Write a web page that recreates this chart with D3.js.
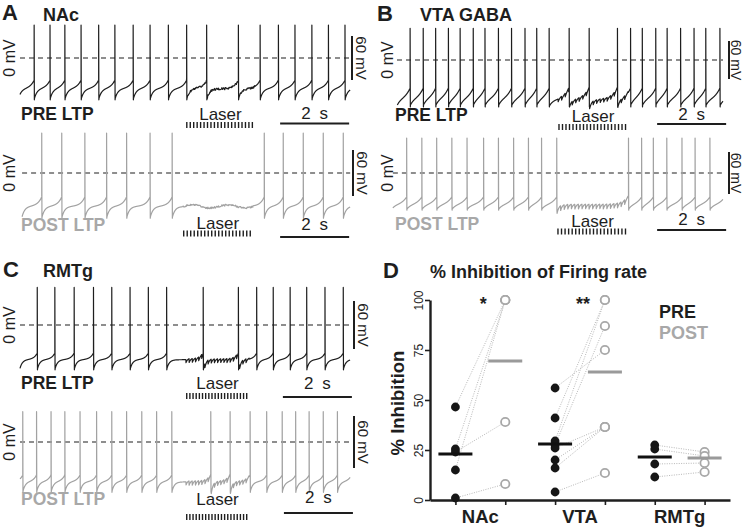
<!DOCTYPE html>
<html><head><meta charset="utf-8">
<script src="https://cdn.jsdelivr.net/npm/d3@7"></script>
<style>
body{margin:0;background:#fff}
svg text{font-family:"Liberation Sans",Arial,Helvetica,sans-serif}
</style></head><body>
<svg id="c" width="744" height="529"></svg>
<script>
// ---------------- DATA ----------------
// spike times (s)
const nacPreSpikes  = [0.41,0.87,1.30,1.77,2.28,2.75,3.28,3.77,4.30,4.83,5.41,6.33,6.96,7.49,7.97,8.46,8.94,9.42];
const nacPostSpikes = [0.63,1.21,1.88,2.51,3.09,3.77,4.41,7.08,7.63,8.21,8.79,9.37];
const vtaPreSpikes  = [0.38,0.76,1.12,1.49,1.83,2.21,2.55,2.94,3.32,3.71,4.05,4.41,4.99,5.57,6.39,6.77,7.11,7.50,7.83,8.22,8.61,8.95,9.36];
const vtaPostSpikes = [0.28,0.72,1.15,1.59,2.03,2.51,2.94,3.38,3.81,4.19,4.63,6.71,7.09,7.43,7.82,8.26,8.64,9.07];
const rmtgPreSpikes = [0.50,1.01,1.57,2.13,2.66,3.19,3.72,4.25,5.31,6.33,6.86,7.34,7.83,8.31,8.84,9.37];
const rmtgPostSpikes= [0.08,0.48,0.90,1.30,1.74,2.22,2.66,3.09,3.53,3.96,4.40,5.53,6.09,6.67,7.15,7.60,7.99,8.38,8.79,9.20];
// membrane levels (mV): [spike peak, threshold, trough]
const nacPreLevels  = [45,-30,-57];
const nacPostLevels = [52,-31,-59];
const vtaPreLevels  = [50,-44,-74];
const vtaPostLevels = [50,-34,-53];
const rmtgPreLevels = [47,-35,-56];
const rmtgPostLevels= [35,-38,-58];
// laser windows (s)
const nacPreLaser  = [4.81,6.81];
const nacPostLaser = [4.72,6.75];
const vtaPreLaser  = [4.67,6.70];
const vtaPostLaser = [4.64,6.70];
const rmtgPreLaser = [4.81,6.64];
const rmtgPostLaser= [4.81,6.64];
const laserPulses = 20;

// Panel D
const groups = ["NAc","VTA","RMTg"];
const conds = ["PRE","POST"];
const nacPre  = [46.5,25.5,15,24,1];
const nacPost = [100,100,100,39,8];
const vtaPre  = [56,41,29.5,27.5,26,20,16,4];
const vtaPost = [75,100,100,87,36.5,36.5,36.5,13.5];
const rmtgPre = [27.5,25.5,18,11.5];
const rmtgPost= [24,22,18.5,14];
const meanPre  = [23,28,21.5];
const meanPost = [69.5,64,21];
const yTicks = [0,25,50,75,100];

// ---------------- DRAW ----------------
const svg = d3.select("#c");
const BLACK = "#1e1e1e", GREY = "#a2a2a2";
const pxPerSec = 34.5;

function hn(i){ const x=Math.sin(i*127.1+311.7)*43758.5453; return (x-Math.floor(x))*2-1; }
function noiseAt(t, step){ const u=t/step, i=Math.floor(u), f=u-i; return hn(i)*(1-f)+hn(i+1)*f; }

function buildTrace(spikes, levels, span, laser, eff, sh){
  const [peak,thr,trough] = levels;
  const n = spikes.length;
  const bounds = [spikes[0]-(spikes[1]-spikes[0]), ...spikes, spikes[n-1]+(spikes[n-1]-spikes[n-2])];
  const pts = [];
  const dt = 0.004;
  for (let k=0;k<bounds.length-1;k++){
    const a=bounds[k], b=bounds[k+1];
    const lo=Math.max(a,span[0]), hi=Math.min(b,span[1]);
    if (hi<=lo) continue;
    if (k>0 && a>=span[0]) { pts.push([a,thr]); pts.push([a,peak]); pts.push([a+0.006,trough]); }
    for (let t=Math.max(lo,a+0.01); t<hi; t+=dt){
      const t1=t-a, t2=b-t;
      let f = sh.w*(1-Math.exp(-t1/sh.tau1)) + (1-sh.w)*Math.exp(-t2/sh.tau2);
      let v = trough + (thr-trough)*f;
      if (t>=laser[0] && t<=laser[1]) {
        if (eff.type==="noise") v += eff.amp*noiseAt(t,0.014) + (eff.wave||0)*Math.sin((t-laser[0])*6);
        if (eff.type==="ipsp") {
          const per=(laser[1]-laser[0])/laserPulses;
          const ph=(t-laser[0])%per;
          v += -eff.amp*Math.exp(-ph/eff.tau) + eff.amp*0.35;
        }
      }
      pts.push([t,v]);
    }
  }
  return pts;
}

const shNAc = {w:0.55,tau1:0.08,tau2:0.12};
const shVTA = {w:0.35,tau1:0.10,tau2:0.16};
const shRMT = {w:0.6,tau1:0.07,tau2:0.10};

const panels = [
 {spikes:nacPreSpikes, levels:nacPreLevels, laser:nacPreLaser, span:[0,9.57], eff:{type:"noise",amp:1.6}, sh:shNAc, post:false,
  x0:20, y0:58, k:0.733, sbX:352, mv60X:356, mv0X:15, mvFs:15, lab:[21,120], laserTextY:119.5, laserBarY:122, barT:7.54, barY:123.5, barTextY:119},
 {spikes:nacPostSpikes, levels:nacPostLevels, laser:nacPostLaser, span:[0.06,9.57], eff:{type:"noise",amp:1.2,wave:2}, sh:shNAc, post:true,
  x0:20, y0:173, k:0.767, sbX:353, mv60X:357, mv0X:15, mvFs:15, lab:[21,231], laserTextY:229, laserBarY:230.5, barT:7.54, barY:237, barTextY:230},
 {spikes:vtaPreSpikes, levels:vtaPreLevels, laser:vtaPreLaser, span:[0,9.45], eff:{type:"ipsp",amp:7,tau:0.05}, sh:shVTA, post:false,
  x0:397, y0:60, k:0.633, sbX:729, mv60X:731, mv0X:393, mvFs:14, lab:[395,121], laserTextY:122, laserBarY:124, barT:7.54, barY:124, barTextY:120},
 {spikes:vtaPostSpikes, levels:vtaPostLevels, laser:vtaPostLaser, span:[-0.12,9.45], eff:{type:"ipsp",amp:8,tau:0.05}, sh:shVTA, post:true,
  x0:397, y0:173, k:0.7, sbX:729, mv60X:731, mv0X:393, mvFs:14, lab:[395,230], laserTextY:227, laserBarY:228.5, barT:7.54, barY:230, barTextY:225},
 {spikes:rmtgPreSpikes, levels:rmtgPreLevels, laser:rmtgPreLaser, span:[0,9.57], eff:{type:"ipsp",amp:6,tau:0.05}, sh:shRMT, post:false,
  x0:20, y0:325, k:0.8, sbX:354, mv60X:358, mv0X:15, mvFs:15, lab:[21,389], laserTextY:389, laserBarY:393, barT:7.62, barY:397, barTextY:389},
 {spikes:rmtgPostSpikes, levels:rmtgPostLevels, laser:rmtgPostLaser, span:[0,9.57], eff:{type:"ipsp",amp:6,tau:0.05}, sh:shRMT, post:true,
  x0:20, y0:442, k:0.867, sbX:354, mv60X:358, mv0X:15, mvFs:15, lab:[21,505], laserTextY:505, laserBarY:514, barT:7.65, barY:513, barTextY:503}
];

panels.forEach(p=>{
  const x = d3.scaleLinear().domain([0,1]).range([p.x0, p.x0+pxPerSec]);
  const y = d3.scaleLinear().domain([0,1]).range([p.y0, p.y0-p.k]);
  const g = svg.append("g");
  const col = p.post ? GREY : BLACK;
  g.append("line").attr("x1",x(p.span[0])).attr("x2",x(p.span[1])).attr("y1",y(0)).attr("y2",y(0))
    .attr("stroke",BLACK).attr("stroke-width",1.2).attr("stroke-dasharray","5,4");
  const pts = buildTrace(p.spikes,p.levels,p.span,p.laser,p.eff,p.sh);
  g.append("path").attr("d", d3.line().x(d=>x(d[0])).y(d=>y(d[1]))(pts))
    .attr("fill","none").attr("stroke",col).attr("stroke-width",1.2).attr("stroke-linejoin","round");
  g.append("line").attr("x1",p.sbX).attr("x2",p.sbX).attr("y1",y(30)).attr("y2",y(-30)).attr("stroke",BLACK).attr("stroke-width",2);
  g.append("text").attr("transform",`translate(${p.mv60X},${y(0)}) rotate(90)`).attr("text-anchor","middle")
    .attr("font-size",p.mvFs).attr("fill",BLACK).text("60 mV");
  g.append("text").attr("transform",`translate(${p.mv0X},${y(0)}) rotate(-90)`).attr("text-anchor","middle")
    .attr("font-size",16).attr("fill",BLACK).text("0 mV");
  g.append("text").attr("x",p.lab[0]).attr("y",p.lab[1]).attr("font-size",17.5).attr("font-weight","bold")
    .attr("fill", p.post ? "#a8a8a8" : BLACK).text(p.post ? "POST LTP" : "PRE LTP");
  const per=(p.laser[1]-p.laser[0])/laserPulses;
  const pulses=d3.range(laserPulses).map(i=>p.laser[0]+i*per+per*0.25);
  g.selectAll(null).data(pulses).enter().append("line")
    .attr("x1",d=>x(d)).attr("x2",d=>x(d)).attr("y1",p.laserBarY).attr("y2",p.laserBarY+6)
    .attr("stroke",BLACK).attr("stroke-width",1.4);
  g.append("text").attr("x",x((p.laser[0]+p.laser[1])/2)).attr("y",p.laserTextY).attr("text-anchor","middle")
    .attr("font-size",17).attr("fill",BLACK).text("Laser");
  g.append("line").attr("x1",x(p.barT)).attr("x2",x(p.barT+2)).attr("y1",p.barY).attr("y2",p.barY).attr("stroke",BLACK).attr("stroke-width",2);
  g.append("text").attr("x",x(p.barT+1)).attr("y",p.barTextY).attr("text-anchor","middle").attr("font-size",17)
    .attr("word-spacing",4).attr("fill",BLACK).text("2 s");
});

const titles = [
  {t:"A",x:2,y:20,s:22},{t:"NAc",x:43,y:21,s:18},
  {t:"B",x:377,y:21,s:22},{t:"VTA GABA",x:420,y:21,s:18},
  {t:"C",x:3,y:277,s:22},{t:"RMTg",x:43,y:277,s:18},
  {t:"D",x:383,y:278,s:22},{t:"% Inhibition of Firing rate",x:430,y:278,s:18}
];
svg.selectAll(null).data(titles).enter().append("text")
  .attr("x",d=>d.x).attr("y",d=>d.y).attr("font-size",d=>d.s).attr("font-weight","bold").attr("fill",BLACK).text(d=>d.t);

// ---------------- Panel D ----------------
const yD = d3.scaleLinear().domain([0,100]).range([500,300]);
const keys = []; groups.forEach(g=>conds.forEach(c=>keys.push(g+"|"+c)));
const xD = d3.scalePoint().domain(keys).range([430,730]).padding(0.51);
const D = svg.append("g");
const preData = [nacPre,vtaPre,rmtgPre], postData=[nacPost,vtaPost,rmtgPost];

groups.forEach((g,gi)=>{
  const xa=xD(g+"|PRE"), xb=xD(g+"|POST");
  D.selectAll(null).data(d3.range(preData[gi].length)).enter().append("line")
    .attr("x1",xa).attr("y1",i=>yD(preData[gi][i])).attr("x2",xb).attr("y2",i=>yD(postData[gi][i]))
    .attr("stroke","#b8b8b8").attr("stroke-width",1).attr("stroke-dasharray","1,1.4");
});
const ya = D.append("g").attr("transform","translate(430,0)")
  .call(d3.axisLeft(yD).tickValues(yTicks).tickSize(5).tickSizeOuter(0));
ya.select(".domain").attr("stroke",BLACK).attr("stroke-width",2.4);
ya.selectAll(".tick line").attr("stroke",BLACK).attr("stroke-width",1.6);
ya.selectAll(".tick text").attr("x",null).attr("dy",null).attr("text-anchor","middle")
  .attr("transform","translate(-7,0) rotate(-90)").attr("font-size",12).attr("fill",BLACK)
  .style("font-family","Liberation Sans, Arial, sans-serif");
const xa = D.append("g").attr("transform","translate(0,500)")
  .call(d3.axisBottom(xD).tickSize(5).tickSizeOuter(0).tickFormat(""));
xa.select(".domain").attr("stroke",BLACK).attr("stroke-width",2.4);
xa.selectAll(".tick line").attr("stroke",BLACK).attr("stroke-width",1.6);

D.append("text").attr("transform","translate(404,403) rotate(-90)").attr("text-anchor","middle")
  .attr("font-size",18.5).attr("font-weight","bold").attr("fill",BLACK).text("% Inhibition");
D.selectAll(null).data(groups).enter().append("text")
  .attr("x",g=>(xD(g+"|PRE")+xD(g+"|POST"))/2).attr("y",523).attr("text-anchor","middle")
  .attr("font-size",18.5).attr("font-weight","bold").attr("fill",BLACK).text(g=>g);

groups.forEach((g,gi)=>{
  D.selectAll(null).data(preData[gi]).enter().append("circle")
    .attr("cx",xD(g+"|PRE")).attr("cy",d=>yD(d)).attr("r",4.4).attr("fill","#161616");
  D.selectAll(null).data(postData[gi]).enter().append("circle")
    .attr("cx",xD(g+"|POST")).attr("cy",d=>yD(d)).attr("r",4.2).attr("fill","#fff")
    .attr("stroke","#a8a8a8").attr("stroke-width",1.8);
});
groups.forEach((g,gi)=>{
  D.append("line").attr("x1",xD(g+"|PRE")-17).attr("x2",xD(g+"|PRE")+17)
    .attr("y1",yD(meanPre[gi])).attr("y2",yD(meanPre[gi])).attr("stroke","#111").attr("stroke-width",3);
  D.append("line").attr("x1",xD(g+"|POST")-17).attr("x2",xD(g+"|POST")+17)
    .attr("y1",yD(meanPost[gi])).attr("y2",yD(meanPost[gi])).attr("stroke","#9a9a9a").attr("stroke-width",3.2);
});
const stars = [{g:"NAc",t:"*"},{g:"VTA",t:"**"}];
D.selectAll(null).data(stars).enter().append("text")
  .attr("x",d=>xD(d.g+"|POST")-22).attr("y",310).attr("text-anchor","middle")
  .attr("font-size",18).attr("font-weight","bold").attr("fill",BLACK).text(d=>d.t);
D.append("text").attr("x",659).attr("y",318).attr("font-size",18).attr("font-weight","bold").attr("fill",BLACK).text("PRE");
D.append("text").attr("x",659).attr("y",339).attr("font-size",18).attr("font-weight","bold").attr("fill","#a8a8a8").text("POST");
</script>
</body></html>
